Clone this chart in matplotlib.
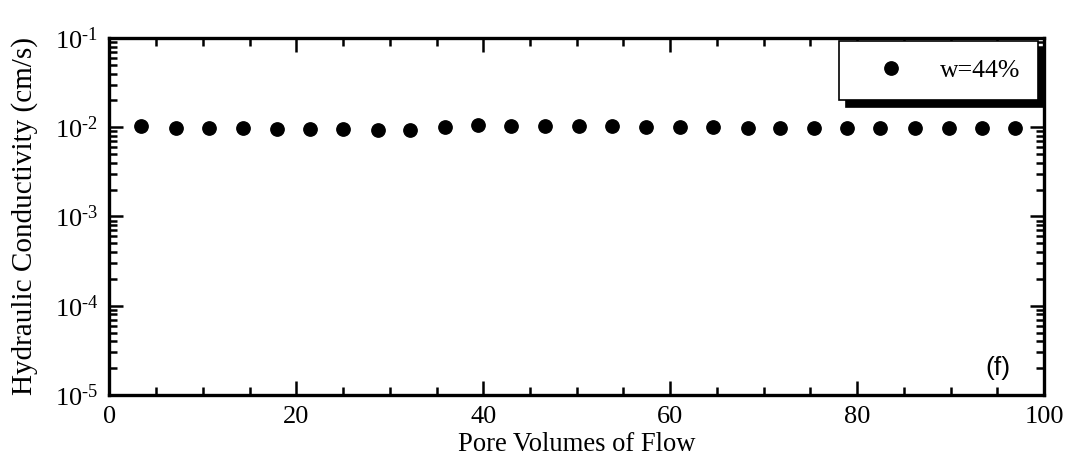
import matplotlib
matplotlib.use("Agg")
import matplotlib.pyplot as plt
from matplotlib.ticker import LogLocator, MultipleLocator, FuncFormatter, NullFormatter
import numpy as np

plt.rcParams['font.family'] = ['Liberation Serif', 'DejaVu Serif']
plt.rcParams['mathtext.fontset'] = 'custom'
plt.rcParams['mathtext.rm'] = 'Liberation Serif'
plt.rcParams['mathtext.it'] = 'Liberation Serif:italic'

# Pore volumes of flow and measured hydraulic conductivity (cm/s)
pore_volumes = [3.4, 7.1, 10.6, 14.3, 17.9, 21.5, 25.0, 28.7, 32.2, 35.9,
                39.4, 43.0, 46.6, 50.2, 53.8, 57.4, 61.0, 64.6, 68.3, 71.7,
                75.4, 78.9, 82.5, 86.2, 89.8, 93.4, 96.9]
conductivity = [0.0102, 0.0099, 0.0099, 0.0098, 0.0096, 0.0096, 0.0095, 0.0093, 0.0092, 0.0100,
                0.0105, 0.0103, 0.0103, 0.0102, 0.0102, 0.0101, 0.0101, 0.0100, 0.0099, 0.0099,
                0.0099, 0.0099, 0.0099, 0.0099, 0.0099, 0.0099, 0.0098]
series_label = "w=44%"
panel_tag = "(f)"


def decade_label(value, pos):
    exp = int(round(np.log10(value)))
    sign = "-" if exp < 0 else ""
    return r"$10^{\text{%s%d}}$" % (sign, abs(exp))


fig = plt.figure(figsize=(10.71, 4.61), dpi=100)
ax = fig.add_axes([0.1022, 0.1432, 0.8726, 0.7744])

ax.plot(pore_volumes, conductivity, linestyle='none', marker='o',
        markersize=9.6, color='black', label=series_label)

ax.set_yscale('log')
ax.set_xlim(0, 100)
ax.set_ylim(1e-5, 1e-1)

ax.xaxis.set_major_locator(MultipleLocator(20))
ax.xaxis.set_minor_locator(MultipleLocator(5))
ax.yaxis.set_major_locator(LogLocator(base=10, numticks=10))
ax.yaxis.set_minor_locator(LogLocator(base=10, subs=np.arange(2, 10), numticks=20))
ax.yaxis.set_major_formatter(FuncFormatter(decade_label))
ax.yaxis.set_minor_formatter(NullFormatter())

for s in ax.spines.values():
    s.set_linewidth(2.4)

ax.tick_params(which='both', direction='in', top=True, right=True, width=1.8)
ax.tick_params(which='major', length=10, labelsize=19, pad=8)
ax.tick_params(which='minor', length=5.5)

ax.set_xlabel("Pore Volumes of Flow", fontsize=19.2, labelpad=3)
ax.set_ylabel("Hydraulic Conductivity (cm/s)", fontsize=21, labelpad=12)

ax.text(0.951, 0.042, panel_tag, transform=ax.transAxes, fontsize=19,
        family=['Liberation Sans Narrow', 'Liberation Sans'], ha='center', va='bottom')

leg = ax.legend(loc='upper right', bbox_to_anchor=(0.9936, 0.9924), borderaxespad=0,
                fontsize=18.5, frameon=True, fancybox=False, edgecolor='black',
                borderpad=0.7, handlelength=2.62, handletextpad=0.6, numpoints=1,
                shadow={'color': 'black', 'alpha': 1, 'ox': 5, 'oy': -5})
leg.get_frame().set_linewidth(1.2)

fig.savefig("out.png", dpi=100)
